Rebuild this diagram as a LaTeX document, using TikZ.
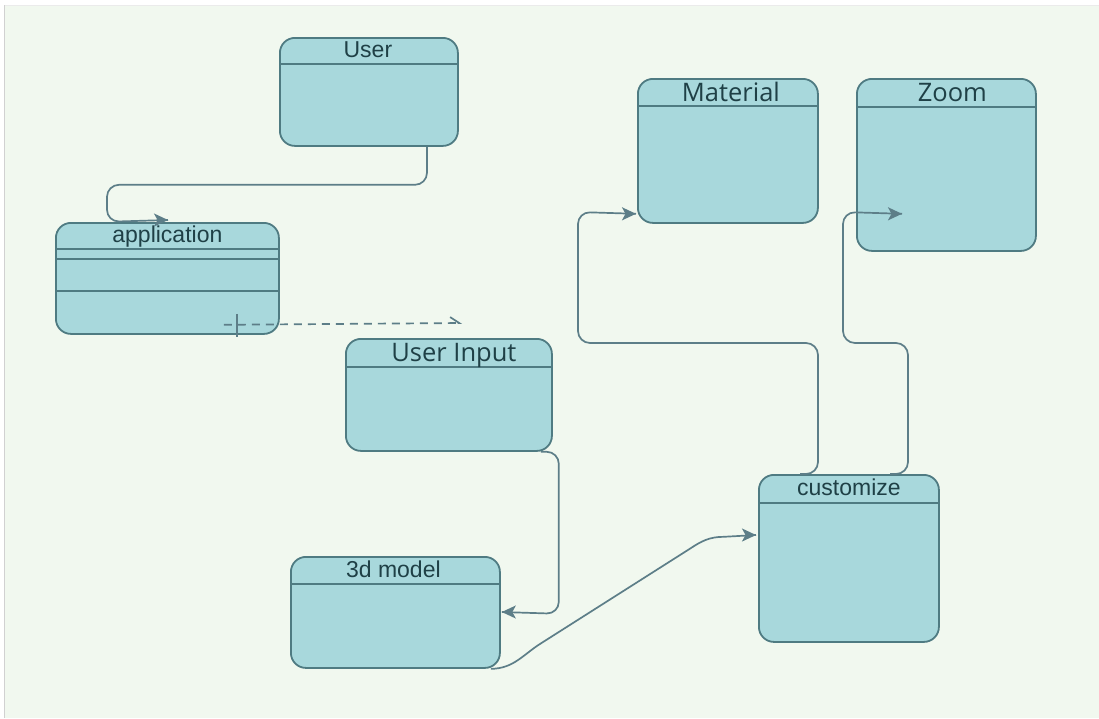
\documentclass[tikz,border=0pt]{standalone}
\usepackage{fontspec}
\setmainfont{Liberation Sans}
\newfontfamily\titlefont{Open Sans}
\usetikzlibrary{arrows.meta,calc}
\definecolor{bgc}{HTML}{F1F8EF}
\definecolor{boxfill}{HTML}{A8D8DC}
\definecolor{boxline}{HTML}{4F7B82}
\definecolor{wirec}{HTML}{5D7E88}
\definecolor{ink}{HTML}{1F4046}
\tikzset{
  box/.style={draw=boxline, fill=boxfill, line width=1.8pt, rounded corners=15pt,
              anchor=north west, inner sep=0pt},
  hdr/.style={draw=boxline, line width=1.6pt},
  ttl/.style={text=ink, font=\fontsize{23}{25}\selectfont, inner sep=0pt, anchor=base},
  ttlb/.style={text=ink, font=\titlefont\fontsize{25.5}{27}\selectfont, inner sep=0pt, anchor=base},
  wire/.style={draw=wirec, line width=1.7pt, rounded corners=12pt},
  tip/.style={draw=wirec, fill=wirec, line width=1.7pt, sharp corners,
              -{Stealth[length=14pt,width=13pt,inset=3.5pt]}},
}
\begin{document}
\begin{tikzpicture}[x=1pt,y=-1pt]
  \useasboundingbox (0,0) rectangle (1099,718);
  \fill[white] (0,0) rectangle (1099,718);
  \fill[bgc] (5,5) rectangle (1099,718);
  \draw[black!18, line width=1pt] (4,5) -- (4,718);
  \draw[black!8, line width=0.8pt] (5,5) -- (1099,5);

  % class boxes
  \node[box, minimum width=178pt, minimum height=108pt] (user)  at (279,37)  {};
  \node[box, minimum width=223pt, minimum height=111pt] (app)   at (55,222)  {};
  \node[box, minimum width=206pt, minimum height=112pt] (uin)   at (345,338) {};
  \node[box, minimum width=209pt, minimum height=111pt] (model) at (290,556) {};
  \node[box, minimum width=180pt, minimum height=144pt] (mat)   at (637,78)  {};
  \node[box, minimum width=179pt, minimum height=172pt] (zoom)  at (856,78)  {};
  \node[box, minimum width=180pt, minimum height=167pt] (cust)  at (758,474) {};

  % compartment separators
  \draw[hdr] ($(user.north west)+(0,27)$)  -- ($(user.north east)+(0,27)$);
  \draw[hdr] ($(app.north west)+(0,27)$)   -- ($(app.north east)+(0,27)$);
  \draw[hdr] ($(app.north west)+(0,37)$)   -- ($(app.north east)+(0,37)$);
  \draw[hdr] ($(app.north west)+(0,69)$)   -- ($(app.north east)+(0,69)$);
  \draw[hdr] ($(uin.north west)+(0,29)$)   -- ($(uin.north east)+(0,29)$);
  \draw[hdr] ($(model.north west)+(0,28)$) -- ($(model.north east)+(0,28)$);
  \draw[hdr] ($(mat.north west)+(0,28)$)   -- ($(mat.north east)+(0,28)$);
  \draw[hdr] ($(zoom.north west)+(0,29)$)  -- ($(zoom.north east)+(0,29)$);
  \draw[hdr] ($(cust.north west)+(0,29)$)  -- ($(cust.north east)+(0,29)$);

  % class names
  \node[ttl]  (userT)  at ($(user.north)+(-1,20)$)   {User};
  \node[ttl]  (appT)   at ($(app.north)+(0,20)$)     {application};
  \node[ttlb] (uinT)   at ($(uin.north)+(5,23.5)$)   {User Input};
  \node[ttl]  (modelT) at ($(model.north)+(-2,21)$)  {3d model};
  \node[ttlb] (matT)   at ($(mat.north)+(3,23.5)$)   {Material};
  \node[ttlb] (zoomT)  at ($(zoom.north)+(6,23.5)$)  {Zoom};
  \node[ttl]  (custT)  at ($(cust.north)+(0,21)$)    {customize};

  % arrow end points
  \coordinate (tApp)   at ($(app.north west)+(113,-2)$);
  \coordinate (tModel) at ($(model.north east)+(1,56)$);
  \coordinate (tCust)  at ($(cust.north west)+(-2,61)$);
  \coordinate (tMat)   at ($(mat.south west)+(-1,-10)$);
  \coordinate (tZoom)  at ($(zoom.south west)+(46,-38)$);

  % User -> application
  \draw[wire] ($(user.south west)+(148,0)$) -- ++(0,38) -- ++(-320,0) -- ++(0,37)
        -- (tApp);
  \draw[tip] ($(tApp)+(-2,0)$) -- (tApp);

  % application -> User Input (dashed dependency)
  \draw[wire, rounded corners=0, dash pattern=on 8pt off 6pt,
        -{Straight Barb[harpoon,length=9pt,width=12pt]}]
        ($(app.south east)+(-56,-10)$) -- ($(uin.north west)+(117,-15)$);
  \draw[wirec, line width=1.4pt] ($(app.south east)+(-43,-21)$) -- ++(0,23);

  % User Input -> 3d model
  \draw[wire] ($(uin.south east)+(-12,0)$) -- ++(18,0) -- ++(0,162) -- (tModel);
  \draw[tip] ($(tModel)+(2,0)$) -- (tModel);

  % 3d model -> customize
  \draw[wire, rounded corners=0] ($(model.south east)+(-10,0)$)
        .. controls +(23,0) and +(-18,11) .. ++(51,-26)
        -- ++(148,-94)
        .. controls +(12,-8) and +(-14,0) .. ++(34,-12)
        -- (tCust);
  \draw[tip] ($(tCust)+(-2,0)$) -- (tCust);

  % customize -> Material
  \draw[wire] ($(cust.north west)+(42,0)$) -- ++(18,0) -- ++(0,-131) -- ++(-240,0)
        -- ++(0,-131) -- (tMat);
  \draw[tip] ($(tMat)+(-2,0)$) -- (tMat);

  % customize -> Zoom
  \draw[wire] ($(cust.north west)+(132,0)$) -- ++(18,0) -- ++(0,-131) -- ++(-65,0)
        -- ++(0,-131) -- (tZoom);
  \draw[tip] ($(tZoom)+(-2,0)$) -- (tZoom);
\end{tikzpicture}
\end{document}
